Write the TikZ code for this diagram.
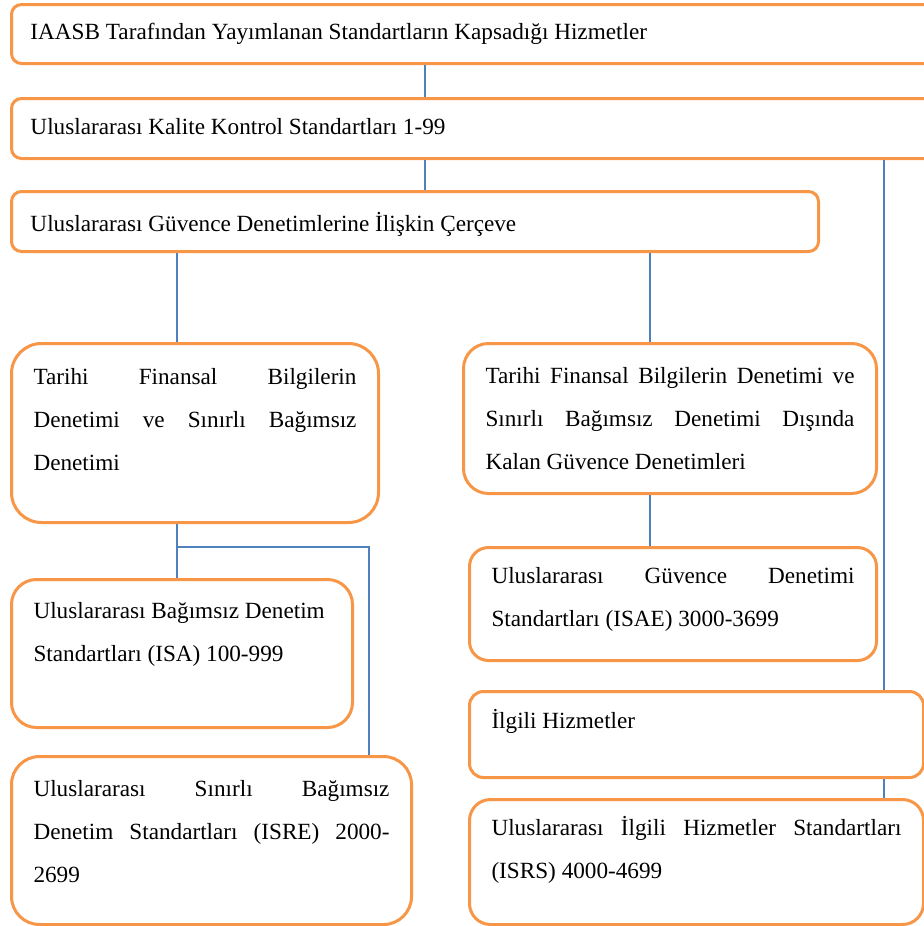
\documentclass[tikz,border=0pt]{standalone}
\usepackage{fontspec}
\setmainfont{Liberation Serif}
\definecolor{boxorange}{HTML}{F79646}
\definecolor{linkblue}{HTML}{4F81BD}
\hyphenpenalty=10000
\tikzset{
  box/.style={draw=boxorange, line width=1.5pt, fill=white, anchor=north west,
    inner xsep=11pt, inner ysep=0pt, align=justify,
    font=\fontsize{11.6}{21.5}\selectfont},
  link/.style={draw=linkblue, line width=0.6pt}
}
\begin{document}
\begin{tikzpicture}[x=0.5pt, y=-0.5pt]
    \useasboundingbox (0, 0) rectangle (924, 926);
    \clip (0, 0) rectangle (924, 926);
    \node [box, inner xsep=9.5pt, text width=448.5pt, text height=17.5pt, text depth=12pt, rounded corners=5pt] (iaasb) at (10, 3) {IAASB Tarafından Yayımlanan Standartların Kapsadığı Hizmetler};
    \node [box, inner xsep=9.5pt, text width=448.5pt, text height=18pt, text depth=12pt, rounded corners=5pt] (kalite) at (10, 97) {Uluslararası Kalite Kontrol Standartları 1-99};
    \node [box, inner xsep=9.5pt, text width=384.5pt, text height=20pt, text depth=10pt, rounded corners=5pt] (cerceve) at (10, 190) {Uluslararası Güvence Denetimlerine İlişkin Çerçeve};
    \node [box, text width=161.5pt, text height=20.5pt, text depth=69pt, rounded corners=15pt] (tarihi) at (10, 342) {Tarihi Finansal Bilgilerin\linebreak Denetimi ve Sınırlı Bağımsız\linebreak Denetimi};
    \node [box, text width=148.5pt, text height=19.5pt, text depth=54.5pt, rounded corners=12.5pt] (isa) at (10, 578) {Uluslararası Bağımsız Denetim\newline Standartları (ISA) 100-999};
    \node [box, text width=178pt, text height=20pt, text depth=64pt, rounded corners=14pt] (isre) at (10, 755) {Uluslararası Sınırlı Bağımsız\linebreak Denetim Standartları (ISRE) 2000-\linebreak 2699};
    \node [box, text width=184.5pt, text height=20pt, text depth=55pt, rounded corners=12.5pt] (diger) at (462, 342) {Tarihi Finansal Bilgilerin Denetimi ve\linebreak Sınırlı Bağımsız Denetimi Dışında\linebreak Kalan Güvence Denetimleri};
    \node [box, text width=181.5pt, text height=18pt, text depth=38.5pt, rounded corners=9.5pt] (isae) at (468, 546) {Uluslararası Güvence Denetimi\linebreak Standartları (ISAE) 3000-3699};
    \node [box, text width=205pt, text height=18.5pt, text depth=24.5pt, rounded corners=7pt] (ilgili) at (468, 690) {İlgili Hizmetler};
    \node [box, text width=205pt, text height=18pt, text depth=44.5pt, rounded corners=10.5pt] (isrs) at (468, 798) {Uluslararası İlgili Hizmetler Standartları\linebreak (ISRS) 4000-4699};
    \coordinate (colA) at (425, 0);
    \coordinate (colB) at (177, 0);
    \coordinate (colC) at (650, 0);
    \coordinate (colD) at (884, 0);
    \coordinate (colE) at (369, 0);
    \coordinate (split) at (177, 547);
    \draw [link] (iaasb.south -| colA) -- (kalite.north -| colA);
    \draw [link] (kalite.south -| colA) -- (cerceve.north -| colA);
    \draw [link] (cerceve.south -| colB) -- (tarihi.north -| colB);
    \draw [link] (cerceve.south -| colC) -- (diger.north -| colC);
    \draw [link] (tarihi.south -| colB) -- (isa.north -| colB);
    \draw [link] (split) -| (isre.north -| colE);
    \draw [link] (diger.south -| colC) -- (isae.north -| colC);
    \draw [link] (kalite.south -| colD) -- (ilgili.north -| colD);
    \draw [link] (ilgili.south -| colD) -- (isrs.north -| colD);
  \end{tikzpicture}
\end{document}
